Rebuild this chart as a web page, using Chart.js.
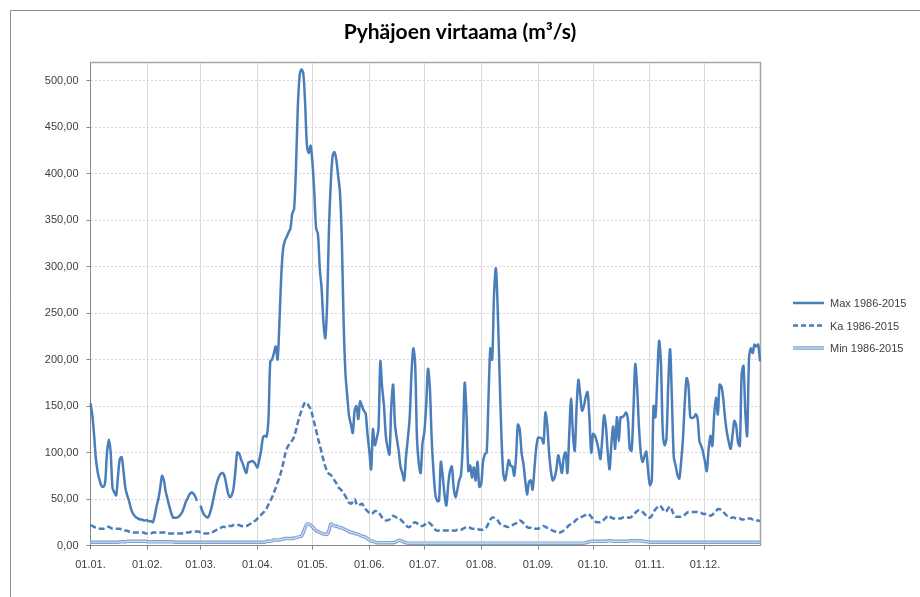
<!DOCTYPE html>
<html lang="fi">
<head>
<meta charset="utf-8">
<title>Pyhäjoen virtaama</title>
<script src="https://cdn.jsdelivr.net/npm/chart.js@4.4.1/dist/chart.umd.min.js"></script>
<style>
  html, body { margin: 0; padding: 0; background: #fff; }
  #wrap { width: 920px; height: 597px; }
</style>
</head>
<body>
<div id="wrap"><canvas id="flowChart" width="920" height="597"></canvas></div>
<script>
// days per month (leap year layout, 29.2. is empty in Max)
const monthDays = [31, 29, 31, 30, 31, 30, 31, 31, 30, 31, 30, 31];
const monthTicks = ['01.01.', '01.02.', '01.03.', '01.04.', '01.05.', '01.06.',
                    '01.07.', '01.08.', '01.09.', '01.10.', '01.11.', '01.12.'];
const seriesNames = ['Max 1986-2015', 'Ka 1986-2015', 'Min 1986-2015'];

// Max 1986-2015, m3/s per day
const maxFlow = [
  153, 140, 118, 92, 78, 70, 64, 63, 68, 100,
  114, 100, 62, 57, 54, 75, 93, 95, 80, 62,
  54, 48, 40, 35, 32, 30, 29, 28, 28, 27,
  27, 27, 26, 26, 25, 32, 42, 50, 62, 75,
  70, 58, 50, 42, 35, 30, 30, 30, 31, 33,
  36, 41, 47, 51, 55, 57, 56, 53, 48, null,
  43, 37, 33, 31, 30, 34, 41, 50, 60, 68,
  74, 77, 78, 75, 66, 56, 52, 54, 62, 80,
  100, 99, 93, 88, 82, 78, 89, 90, 91, 90,
  87, 84, 92, 102, 116, 118, 117, 135, 198, 200,
  207, 214, 200, 240, 290, 319, 328, 332, 337, 341,
  357, 362, 405, 470, 505, 512, 508, 476, 430, 422,
  430, 412, 380, 341, 335, 298, 276, 240, 223, 260,
  340, 390, 419, 423, 415, 398, 380, 330, 240, 185,
  160, 139, 130, 121, 145, 150, 136, 155, 150, 145,
  142, 120, 102, 82, 125, 108, 115, 125, 198, 170,
  150, 118, 105, 98, 150, 173, 130, 115, 102, 85,
  78, 70, 95, 115, 137, 185, 212, 195, 115, 88,
  78, 110, 122, 150, 190, 170, 115, 80, 55, 48,
  48, 90, 75, 55, 43, 65, 80, 85, 62, 52,
  60, 70, 76, 110, 175, 140, 80, 86, 73, 84,
  70, 90, 63, 66, 90, 98, 100, 160, 212, 200,
  270, 298, 255, 185, 120, 78, 70, 80, 92, 86,
  85, 75, 95, 130, 125, 100, 88, 70, 55, 68,
  70, 60, 82, 105, 116, 116, 115, 110, 143, 130,
  100, 80, 70, 73, 82, 97, 88, 78, 95, 100,
  78, 120, 158, 120, 102, 148, 178, 162, 145, 150,
  160, 165, 137, 100, 120, 118, 112, 103, 93, 115,
  140, 128, 100, 82, 110, 128, 104, 138, 112, 138,
  138, 140, 143, 135, 104, 102, 145, 195, 170, 128,
  100, 90, 96, 101, 80, 65, 70, 150, 138, 180,
  220, 196, 122, 108, 115, 175, 211, 155, 95, 86,
  76, 72, 90, 115, 154, 180, 172, 138, 137, 138,
  141, 136, 112, 107, 100, 90, 80, 104, 118, 107,
  140, 159, 141, 173, 171, 157, 136, 121, 111, 104,
  118, 134, 129, 111, 107, 184, 193, 143, 118, 200,
  212, 207, 216, 214, 216, 198
];

// Ka 1986-2015
const meanFlow = [
  22, 21, 20, 19, 18, 18, 18, 18, 19, 20,
  20, 19, 18, 18, 18, 18, 18, 17, 17, 16,
  16, 15, 15, 14, 14, 14, 14, 14, 14, 14,
  13, 13, 13, 13, 14, 14, 14, 14, 14, 14,
  14, 14, 13, 13, 13, 13, 13, 13, 13, 13,
  13, 13, 14, 14, 14, 15, 15, 15, 15, 15,
  14, 14, 13, 13, 13, 14, 14, 15, 16, 17,
  18, 19, 20, 20, 20, 21, 21, 21, 22, 22,
  22, 22, 21, 21, 21, 21, 22, 23, 25, 26,
  27, 29, 31, 33, 35, 37, 40, 44, 48, 52,
  57, 62, 68, 73, 80, 88, 97, 104, 108, 111,
  113, 117, 124, 132, 139, 145, 150, 154, 153, 150,
  147, 140, 132, 124, 115, 108, 100, 92, 85, 80,
  77, 76, 73, 70, 67, 63, 61, 59, 56, 53,
  49, 46, 45, 47, 50, 45, 43, 44, 45, 42,
  39, 37, 35, 34, 35, 37, 37, 36, 33, 30,
  28, 27, 27, 28, 31, 32, 31, 30, 30, 28,
  26, 24, 22, 20, 20, 22, 24, 25, 24, 22,
  21, 21, 22, 24, 25, 24, 22, 19, 17, 16,
  16, 16, 16, 16, 16, 16, 16, 16, 16, 16,
  17, 17, 17, 18, 19, 20, 20, 19, 18, 18,
  18, 18, 17, 17, 17, 18, 20, 24, 28, 30,
  30, 29, 27, 24, 22, 21, 21, 20, 20, 21,
  22, 23, 24, 26, 27, 26, 24, 22, 20, 19,
  19, 18, 18, 18, 18, 19, 20, 21, 20, 19,
  18, 17, 16, 15, 15, 14, 14, 15, 16, 18,
  20, 22, 23, 24, 26, 28, 29, 30, 31, 32,
  33, 34, 33, 31, 28, 26, 25, 25, 25, 26,
  28, 30, 32, 31, 30, 29, 29, 29, 29, 29,
  30, 30, 30, 30, 30, 31, 33, 35, 37, 38,
  37, 36, 34, 32, 30, 30, 32, 36, 39, 41,
  43, 42, 39, 36, 37, 40, 42, 38, 33, 31,
  31, 31, 31, 32, 33, 35, 36, 36, 36, 36,
  36, 36, 35, 35, 34, 34, 33, 33, 32, 33,
  35, 37, 39, 39, 38, 36, 34, 32, 31, 30,
  30, 30, 29, 29, 29, 28, 28, 29, 29, 29,
  29, 28, 28, 27, 27, 26
];

// Min 1986-2015
const minFlow = [
  3.5, 3.5, 3.5, 3.5, 3.5, 3.5, 3.5, 3.5, 3.5, 3.5,
  3.5, 3.5, 3.5, 3.5, 3.5, 3.5, 4, 4, 4, 4,
  4.5, 4.5, 4.5, 4.5, 4.5, 4.5, 4.5, 4.5, 4.5, 4.5,
  4.5, 4, 4, 4, 4, 4, 4, 4, 4, 4,
  4, 4, 4, 4, 4, 4, 3.5, 3.5, 3.5, 3.5,
  3.5, 3.5, 3.5, 3.5, 3.5, 3.5, 3.5, 3.5, 3.5, 3.5,
  3.5, 3.5, 3.5, 3.5, 3.5, 3.5, 3.5, 3.5, 3.5, 3.5,
  3.5, 3.5, 3.5, 3.5, 3.5, 3.5, 3.5, 3.5, 3.5, 3.5,
  3.5, 3.5, 3.5, 3.5, 3.5, 3.5, 3.5, 3.5, 3.5, 3.5,
  3.5, 3.5, 3.5, 3.5, 3.5, 3.5, 4.5, 4.5, 4.5, 5,
  6, 6, 6, 6, 6.5, 7, 7.5, 7.5, 7.5, 7.5,
  7.5, 8, 8.5, 9, 9.5, 10, 14, 19, 23, 23,
  22, 20, 18, 16, 15, 14, 13, 12.5, 12, 12,
  16, 23, 22, 21, 21, 20, 19, 19, 18, 17,
  16, 15, 14, 14, 13, 12.5, 12, 11, 10, 9.5,
  9, 7.5, 6, 5, 4.5, 4, 3, 3, 3, 3,
  3, 3, 3, 3, 3, 3, 3.5, 4.5, 5.5, 5.5,
  4.5, 3.5, 3, 2.5, 2.5, 2.5, 2.5, 2.5, 2.5, 2.5,
  2.5, 2.5, 2.5, 2.5, 2.5, 2.5, 2.5, 2.5, 2.5, 2.5,
  2.5, 2.5, 2.5, 2.5, 2.5, 2.5, 2.5, 2.5, 2.5, 2.5,
  2.5, 2.5, 2.5, 2.5, 2.5, 2.5, 2.5, 2.5, 2.5, 2.5,
  2.5, 2.5, 2.5, 2.5, 2.5, 2.5, 2.5, 2.5, 2.5, 2.5,
  2.5, 2.5, 2.5, 2.5, 2.5, 2.5, 2.5, 2.5, 2.5, 2.5,
  2.5, 2.5, 2.5, 2.5, 2.5, 2.5, 2.5, 2.5, 2.5, 2.5,
  2.5, 2.5, 2.5, 2.5, 2.5, 2.5, 2.5, 2.5, 2.5, 2.5,
  2.5, 2.5, 2.5, 2.5, 2.5, 2.5, 2.5, 2.5, 2.5, 2.5,
  2.5, 2.5, 2.5, 2.5, 2.5, 2.5, 2.5, 2.5, 2.5, 2.5,
  3, 3.5, 4, 4.5, 4.5, 4.5, 4.5, 4.5, 4.5, 4.5,
  4.5, 4.5, 5, 5, 5, 4.5, 4.5, 4.5, 4.5, 4.5,
  4.5, 4.5, 4.5, 4.5, 5, 5, 5, 5, 5, 5,
  5, 4.5, 4.5, 4, 4, 3.5, 3.5, 3.5, 3.5, 3.5,
  3.5, 3.5, 3.5, 3.5, 3.5, 3.5, 3.5, 3.5, 3.5, 3.5,
  3.5, 3.5, 3.5, 3.5, 3.5, 3.5, 3.5, 3.5, 3.5, 3.5,
  3.5, 3.5, 3.5, 3.5, 3.5, 3.5, 3.5, 3.5, 3.5, 3.5,
  3.5, 3.5, 3.5, 3.5, 3.5, 3.5, 3.5, 3.5, 3.5, 3.5,
  3.5, 3.5, 3.5, 3.5, 3.5, 3.5, 3.5, 3.5, 3.5, 3.5,
  3.5, 3.5, 3.5, 3.5, 3.5, 3.5
];

const lineBlue = '#4a7ebb';
const minOuter = '#7fa2d2';
const minInner = '#d3e0f1';

// day labels dd.mm. and where each month starts
const pad = n => String(n).padStart(2, '0');
const dayLabels = [];
const monthStart = [];
monthDays.forEach((n, m) => {
    monthStart.push(dayLabels.length);
    for (let d = 1; d <= n; d++) dayLabels.push(pad(d) + '.' + pad(m + 1) + '.');
});

[maxFlow, meanFlow, minFlow].forEach((arr, i) => {
    if (arr.length !== dayLabels.length) throw new Error(seriesNames[i] + ' has ' + arr.length + ' values');
});

const isMonthStart = i => monthStart.includes(i);

// outer frame of the chart object + top/right side of the plot box
const frame = {
    id: 'frame',
    beforeDraw(chart) {
        const ctx = chart.ctx;
        ctx.save();
        ctx.fillStyle = '#fff';
        ctx.fillRect(0, 0, chart.width, chart.height);
        ctx.strokeStyle = '#8c8c8c';
        ctx.lineWidth = 1;
        ctx.beginPath();
        ctx.moveTo(10.5, chart.height);
        ctx.lineTo(10.5, 10.5);
        ctx.lineTo(chart.width, 10.5);
        ctx.stroke();
        ctx.restore();
    },
    beforeDatasetsDraw(chart) {
        const { ctx, chartArea: a } = chart;
        ctx.save();
        ctx.strokeStyle = '#a6a6a6';
        ctx.lineWidth = 1.5;
        ctx.beginPath();
        ctx.moveTo(a.left, a.top + 0.5);
        ctx.lineTo(a.right + 0.5, a.top + 0.5);
        ctx.lineTo(a.right + 0.5, a.bottom);
        ctx.stroke();
        ctx.restore();
    }
};

// legend with line samples, like the spreadsheet one
const lineLegend = {
    id: 'lineLegend',
    afterDraw(chart) {
        const ctx = chart.ctx;
        const x0 = chart.chartArea.right + 33;
        const rows = [303, 325.5, 348];
        ctx.save();
        ctx.font = '11px "Liberation Sans", Arial, sans-serif';
        ctx.fillStyle = '#404040';
        ctx.textBaseline = 'middle';
        rows.forEach((y, i) => {
            ctx.beginPath();
            ctx.moveTo(x0, y);
            ctx.lineTo(x0 + 31, y);
            if (i === 2) {
                ctx.strokeStyle = minOuter;
                ctx.lineWidth = 3.5;
                ctx.stroke();
                ctx.strokeStyle = minInner;
                ctx.lineWidth = 1.2;
                ctx.stroke();
            } else {
                ctx.strokeStyle = lineBlue;
                ctx.lineWidth = 2.5;
                ctx.setLineDash(i === 1 ? [5, 3] : []);
                ctx.stroke();
                ctx.setLineDash([]);
            }
            ctx.fillText(seriesNames[i], x0 + 37, y + 1);
        });
        ctx.restore();
    }
};

Chart.defaults.font.family = '"Liberation Sans", Arial, sans-serif';
Chart.defaults.font.size = 11;
Chart.defaults.color = '#595959';

const ctx = document.getElementById('flowChart').getContext('2d');

const flowChart = new Chart(ctx, {
    type: 'line',
    data: {
        labels: dayLabels,
        datasets: [
            { label: seriesNames[0], data: maxFlow, borderColor: lineBlue, borderWidth: 2.5, tension: 0.3, spanGaps: false },
            { label: seriesNames[1], data: meanFlow, borderColor: lineBlue, borderWidth: 2.5, borderDash: [6, 3], tension: 0.3 },
            { label: seriesNames[2] + ' (inner)', data: minFlow, borderColor: minInner, borderWidth: 1.2, tension: 0.3 },
            { label: seriesNames[2], data: minFlow, borderColor: minOuter, borderWidth: 3.5, tension: 0.3 }
        ]
    },
    options: {
        responsive: false,
        animation: false,
        devicePixelRatio: 1,
        elements: { point: { radius: 0, hoverRadius: 0 } },
        plugins: {
            legend: { display: false },
            tooltip: { enabled: false },
            title: {
                display: true,
                text: 'Pyhäjoen virtaama (m³/s)',
                color: '#000',
                font: { family: 'Lato, "Liberation Sans", sans-serif', size: 21, weight: 'bold', lineHeight: 1.2 },
                padding: { top: 20, bottom: 16.8 }
            }
        },
        scales: {
            x: {
                type: 'category',
                afterFit: s => { s.height = 51.5; },
                border: { color: '#868686', width: 1 },
                grid: {
                    color: c => isMonthStart(c.index) ? '#d9d9d9' : 'transparent',
                    lineWidth: c => isMonthStart(c.index) ? 1 : 0,
                    tickColor: c => isMonthStart(c.index) ? '#868686' : 'transparent',
                    tickWidth: c => isMonthStart(c.index) ? 1 : 0,
                    tickLength: 4
                },
                ticks: {
                    autoSkip: false,
                    maxRotation: 0,
                    minRotation: 0,
                    padding: 9,
                    color: '#404040',
                    callback: (v, i) => isMonthStart(i) ? monthTicks[monthStart.indexOf(i)] : ''
                }
            },
            y: {
                min: 0,
                max: 520,
                afterFit: s => { s.width = 90.5; },
                afterBuildTicks: s => { s.ticks = s.ticks.filter(t => t.value % 50 === 0); },
                border: { color: '#868686', width: 1, dash: [2, 2] },
                grid: { color: '#d4d4d4', tickColor: '#868686', tickLength: 4 },
                ticks: {
                    stepSize: 50,
                    padding: 8,
                    color: '#404040',
                    callback: v => v.toFixed(2).replace('.', ',')
                }
            },
            // empty right-hand axis that keeps room for the legend
            legendSpace: {
                type: 'linear',
                position: 'right',
                afterFit: s => { s.width = 160; },
                border: { display: false },
                grid: { display: false, drawOnChartArea: false },
                ticks: { display: false }
            }
        }
    },
    plugins: [frame, lineLegend]
});
</script>
</body>
</html>
